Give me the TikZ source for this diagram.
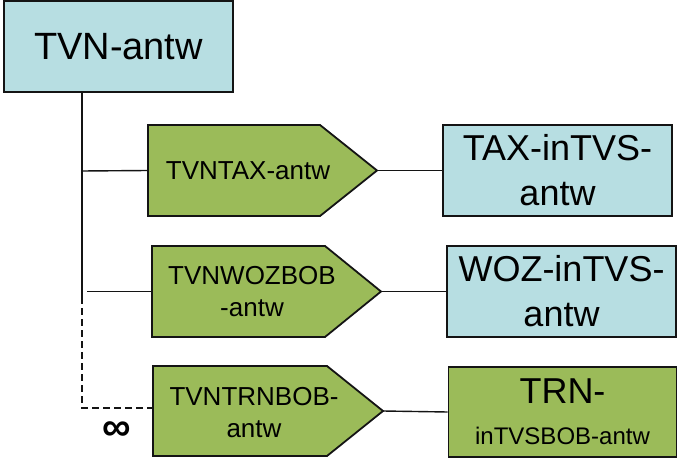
\documentclass[tikz,border=0pt]{standalone}
\usepackage{fontspec}
\setmainfont{Liberation Sans}
\usetikzlibrary{calc}
\definecolor{boxblue}{RGB}{183,222,226}
\definecolor{boxgreen}{RGB}{155,187,89}
\definecolor{edge}{RGB}{20,20,20}
\begin{document}
\begin{tikzpicture}[x=1pt,y=-1pt,
  entbox/.style={draw=edge, line width=1.8pt, minimum width=229pt, minimum height=91pt,
    inner sep=0pt, align=center},
  bigtxt/.style={font=\fontsize{36}{45}\selectfont},
  pent/.style={draw=edge, line width=1.8pt, fill=boxgreen, line join=miter},
  penttxt/.style={inner sep=0pt, align=center, font=\fontsize{26}{32}\selectfont},
  conn/.style={draw=edge, line width=1.4pt},
  dconn/.style={draw=edge, line width=1.4pt, dash pattern=on 7pt off 4pt}]
\useasboundingbox (0,0) rectangle (677,462);

% entity boxes
\node[entbox, fill=boxblue, font=\fontsize{38}{45}\selectfont] (tvn) at (118.5,46.5) {TVN-antw};
\node[entbox, fill=boxblue, bigtxt] (tax) at (557.5,170.5) {TAX-inTVS-\\antw};
\node[entbox, fill=boxblue, bigtxt] (woz) at (561.5,291.5) {WOZ-inTVS-\\antw};
\node[entbox, fill=boxgreen, minimum width=228pt, minimum height=90pt,
  font=\fontsize{24}{41}\selectfont] (trn) at (562.5,412)
  {{\fontsize{36}{41}\selectfont TRN-}\\inTVSBOB-antw};

% pentagon 1
\coordinate (p1l) at (148,170.5);
\coordinate (p1t) at (377,170.5);
\path[pent] (148,125) -- (320,125) -- (p1t) -- (320,216) -- (148,216) -- cycle;
\node[penttxt] (p1) at (248,171) {TVNTAX-antw};

% pentagon 2
\coordinate (p2l) at (152,291.5);
\coordinate (p2t) at (381,291.5);
\path[pent] (152,246) -- (325,246) -- (p2t) -- (325,337) -- (152,337) -- cycle;
\node[penttxt] (p2) at (252,292) {TVNWOZBOB\\-antw};

% pentagon 3
\coordinate (p3l) at (153,411);
\coordinate (p3t) at (383,411);
\path[pent] (153,366) -- (327,366) -- (p3t) -- (327,456) -- (153,456) -- cycle;
\node[penttxt] (p3) at (254,413) {TVNTRNBOB-\\antw};

% trunk
\coordinate (tr0) at (tvn.south -| 82,0);
\coordinate (tr1) at (82,171);
\coordinate (tr2) at (82,297);
\coordinate (b2) at (87,291.5);
\coordinate (tr3) at (82,408);
\coordinate (p3d) at (153,408);
\path[conn] (tr0) -- (tr2);
\path[conn] (tr1) -- (p1l);
\path[conn] (b2) -- (p2l);
\path[dconn] (tr2) -- (tr3) -- (p3d);
\node[font=\bfseries\fontsize{40}{40}\selectfont, inner sep=0pt] (inf) at (117,431) {∞};

% connectors to boxes
\path[conn] (p1t) -- (tax.west);
\path[conn] (p2t) -- (woz.west);
\path[conn] (p3t) -- (trn.west);
\end{tikzpicture}
\end{document}
